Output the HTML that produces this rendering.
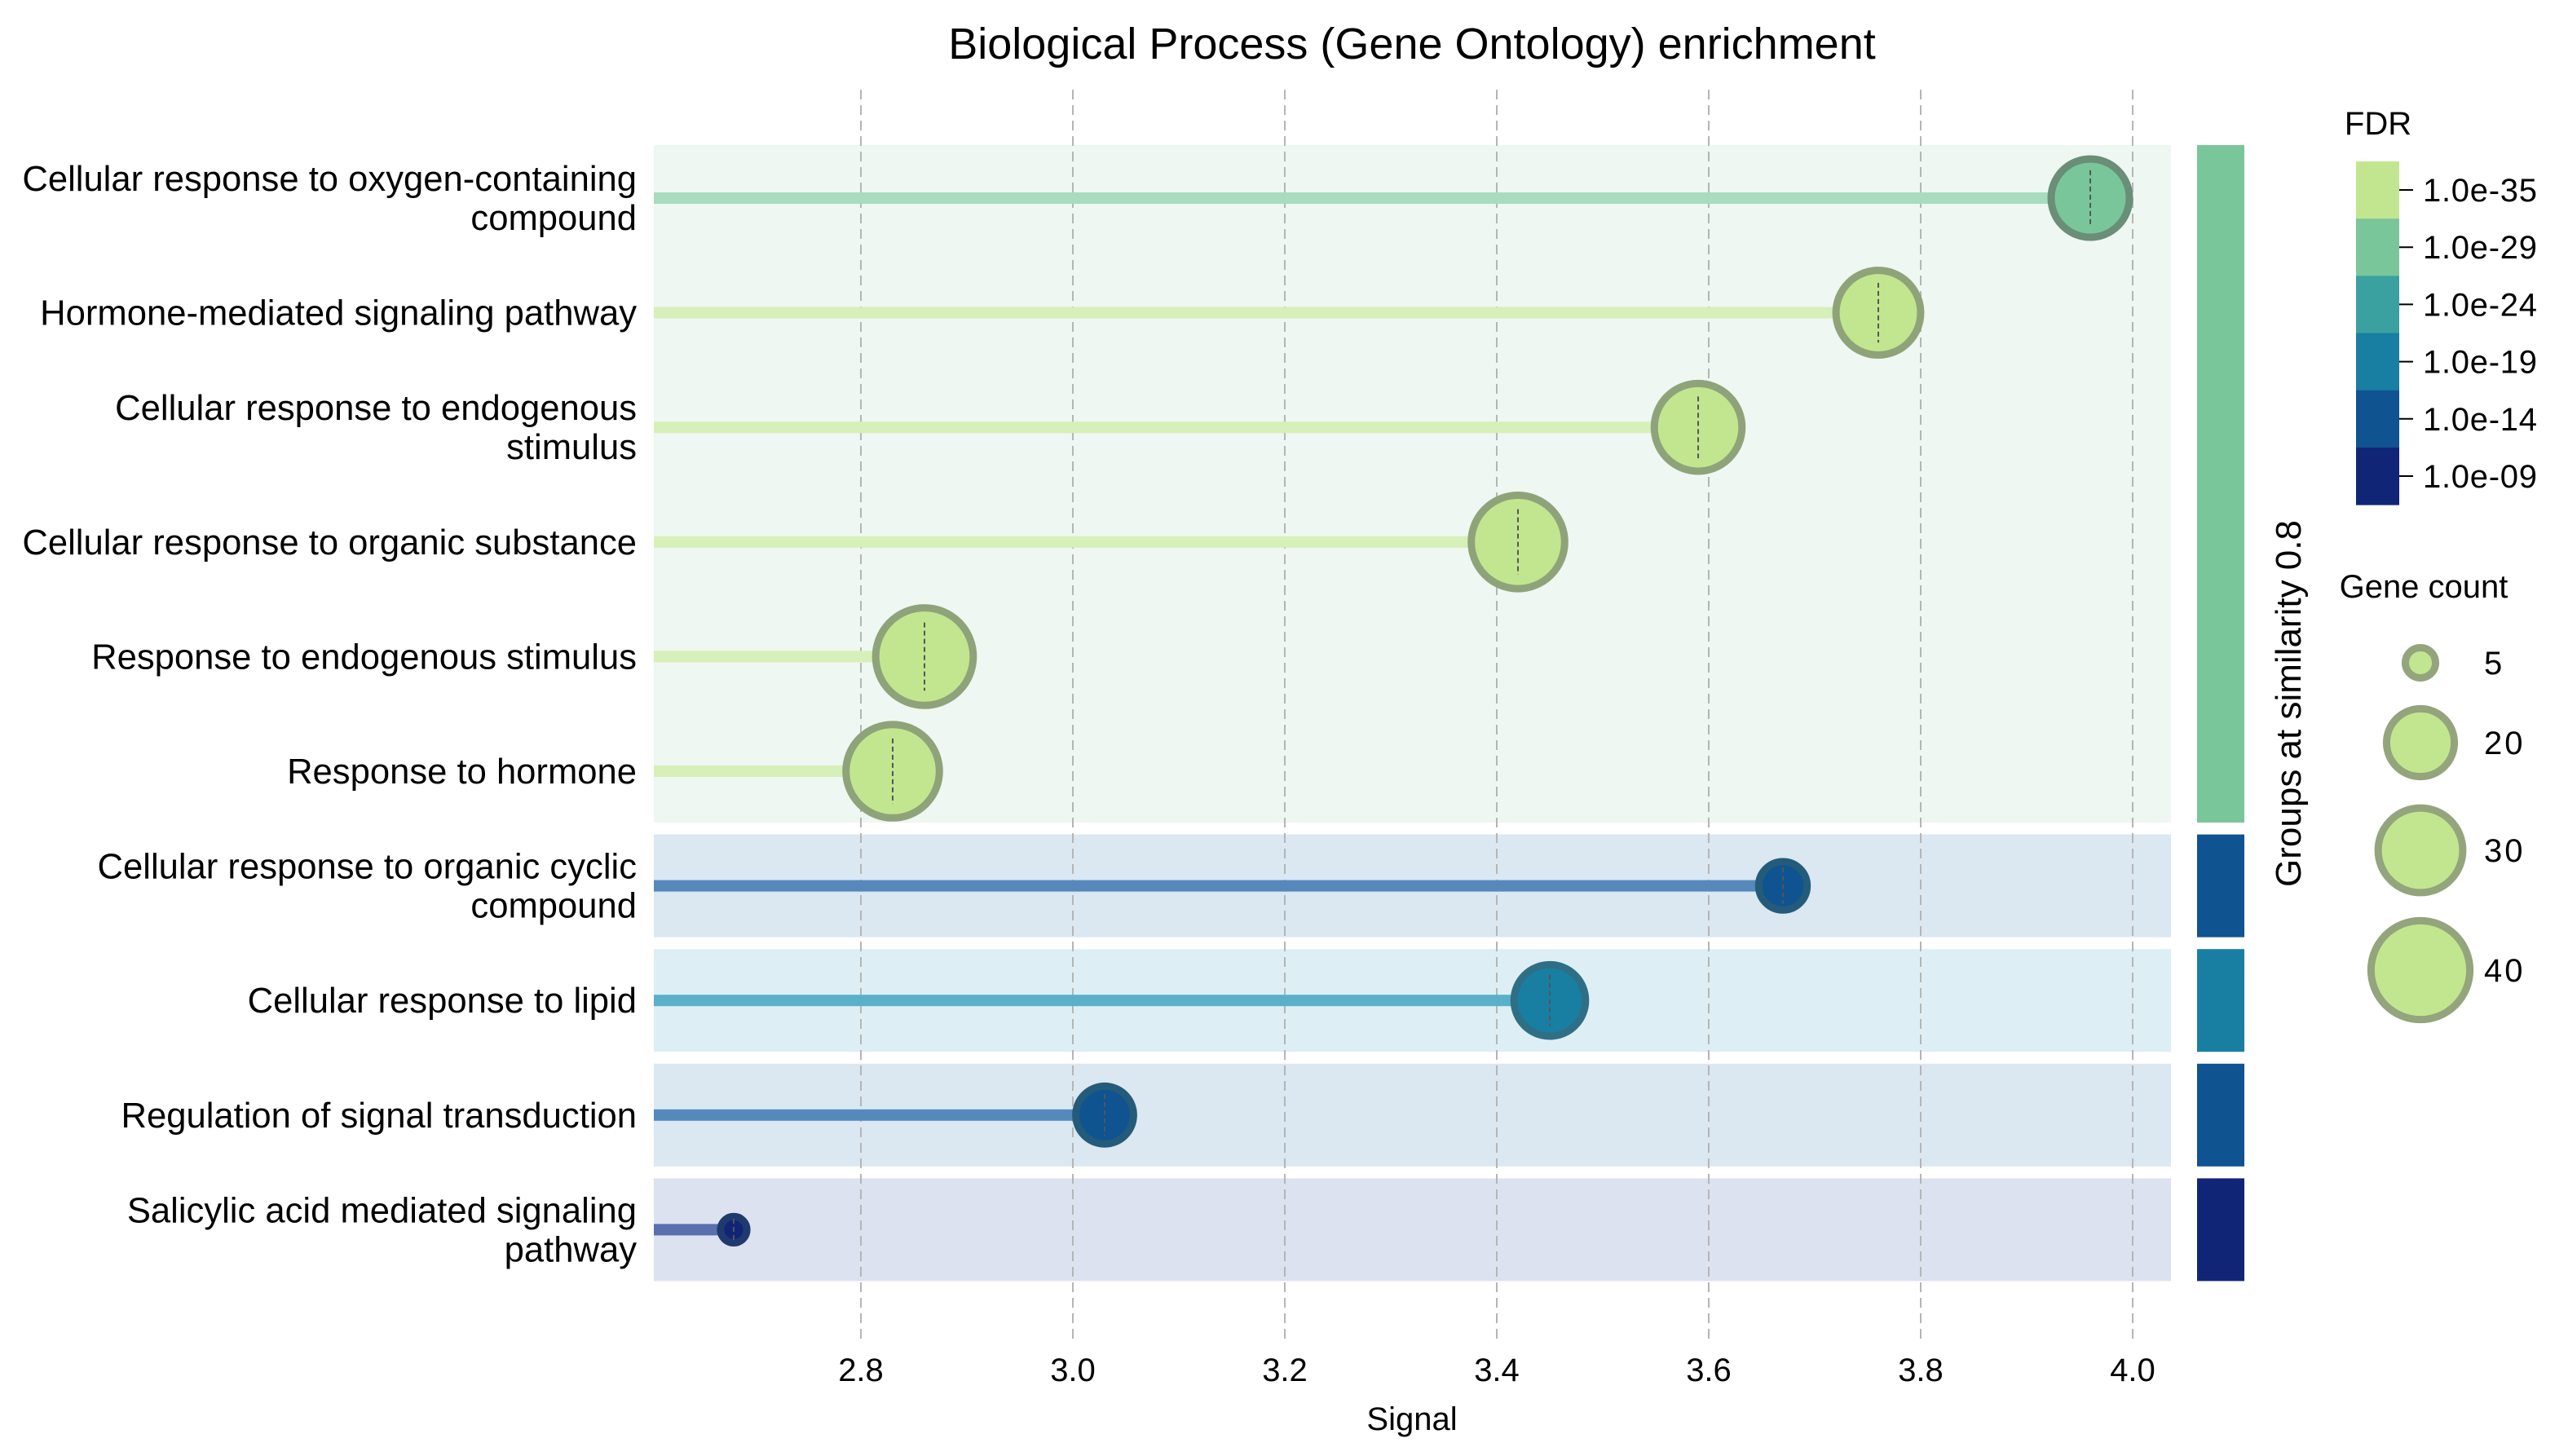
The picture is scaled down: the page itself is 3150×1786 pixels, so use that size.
<!DOCTYPE html>
<html><head><meta charset="utf-8">
<style>
html,body{margin:0;padding:0;background:#fff;}
svg{display:block;font-family:"Liberation Sans",Arial,sans-serif;}
</style></head>
<body>
<svg id="chart" width="3150" height="1786" viewBox="0 0 3150 1786" xmlns="http://www.w3.org/2000/svg">
<text x="1732" y="72" font-size="54" text-anchor="middle" fill="#000">Biological Process (Gene Ontology) enrichment</text>
<g id="bands"></g><g id="grid"></g><g id="stems"></g><g id="marks"></g><g id="labels"></g><g id="groups"></g>
<text x="1732" y="1754" font-size="40" text-anchor="middle">Signal</text>
<text transform="translate(2822,863) rotate(-90)" font-size="44" text-anchor="middle">Groups at similarity 0.8</text>
<text x="2917" y="165" font-size="40" text-anchor="middle">FDR</text>
<g id="cbar"></g>
<text x="2973" y="733" font-size="40" text-anchor="middle">Gene count</text>
<g id="sizeleg"></g>
</svg>
<script>
const terms = [["Cellular response to oxygen-containing","compound"],["Hormone-mediated signaling pathway"],["Cellular response to endogenous","stimulus"],["Cellular response to organic substance"],["Response to endogenous stimulus"],["Response to hormone"],["Cellular response to organic cyclic","compound"],["Cellular response to lipid"],["Regulation of signal transduction"],["Salicylic acid mediated signaling","pathway"]];
const signal = [3.96,3.76,3.59,3.42,2.86,2.83,3.67,3.45,3.03,2.68];
const geneCount = [26,30,32,36,39,36,11,22,15,4];
const fdrBin = [1,0,0,0,0,0,4,3,4,5];
const groupId = [0,0,0,0,0,0,1,2,3,4];
const xTicks = [2.8,3.0,3.2,3.4,3.6,3.8,4.0];
const fdrLabels = ["1.0e-35","1.0e-29","1.0e-24","1.0e-19","1.0e-14","1.0e-09"];
const sizeLegend = [5,20,30,40];

const NS="http://www.w3.org/2000/svg";
const fill=["#c2e68f","#79c69a","#3ba0a0","#187fa3","#0f5391","#112577"];
const edge=["#8fa37a","#6a8e78","#3a7e80","#2e6f86","#245b7a","#1f3a6e"];
const stem=["#d7efb9","#a8dcbf","#8ccaca","#5ab0c8","#5589bb","#5a6fae"];
const bandBg=["#eef7f1","#dbe7f1","#ddeff4","#dbe7f1","#dde2f0"];
const x=v=>1056+(v-2.8)*1300;
const y=i=>243+i*140.6;
const rad=c=>10.3*Math.sqrt(c);
function mk(tag,at,parent){const e=document.createElementNS(NS,tag);for(const k in at)e.setAttribute(k,at[k]);document.getElementById(parent).appendChild(e);return e;}
const groupsRows={};groupId.forEach((g,i)=>{(groupsRows[g]=groupsRows[g]||[]).push(i);});
Object.keys(groupsRows).forEach(g=>{
  const rows=groupsRows[g];const top=y(rows[0])-63;const bot=y(rows[rows.length-1])+63;
  const t=(g==0)?178:top;
  const b=mk('rect',{x:802,y:t,width:1861,height:bot-t,fill:bandBg[g]},'bands');
  
  
  const gb=mk('rect',{x:2695,y:t,width:58,height:bot-t,fill:fill[fdrBin[rows[0]]]},'groups');
  
  
});
xTicks.forEach(t=>{
  const l=mk('line',{x1:x(t),x2:x(t),y1:110,y2:1646,stroke:'#b5b5b5','stroke-width':2,'stroke-dasharray':'12,7'},'grid');
  
  
  const tx=mk('text',{x:x(t),y:1694,'font-size':40,'text-anchor':'middle'},'labels');
  tx.textContent=t.toFixed(1);
  
  
});
signal.forEach((s,i)=>{
  const cy=y(i),cx=x(s),r=rad(geneCount[i]),b=fdrBin[i];
  const st=mk('rect',{x:802,y:cy-7,width:cx-802,height:14,fill:stem[b]},'stems');
  
  
  const c=mk('circle',{cx:cx,cy:cy,r:r-4.5,fill:fill[b],stroke:edge[b],'stroke-width':9},'marks');
  
  
  const d=mk('line',{x1:cx,x2:cx,y1:cy-r*0.65,y2:cy+r*0.65,stroke:'#555','stroke-width':2,'stroke-dasharray':'6,4'},'marks');
  
  
  const lines=terms[i];const y0=cy+15-(lines.length-1)*24;
  lines.forEach((ln,k)=>{
    const t=mk('text',{x:781,y:y0+k*48,'font-size':43.6,'text-anchor':'end'},'labels');
    t.textContent=ln;
    
    
  });
});
fdrLabels.forEach((lab,k)=>{
  const yy=198+k*70.2;
  const r=mk('rect',{x:2890,y:yy,width:53,height:70.6,fill:fill[k]},'cbar');
  
  
  mk('line',{x1:2943,x2:2960,y1:yy+35,y2:yy+35,stroke:'#000','stroke-width':2},'cbar');
  const t=mk('text',{x:2972,y:yy+49,'font-size':40,textLength:140,lengthAdjust:'spacing'},'cbar');
  t.textContent=lab;
  
  
});
const legY=[813,911,1043,1190];
sizeLegend.forEach((v,k)=>{
  const r=rad(v);
  const c=mk('circle',{cx:2969,cy:legY[k],r:r-4.5,fill:'#c2e68f',stroke:'#94a47c','stroke-width':9},'sizeleg');
  
  
  const t=mk('text',{x:3047,y:legY[k]+14,'font-size':40,'letter-spacing':3},'sizeleg');
  t.textContent=v;
  
  
});
</script>
</body></html>
